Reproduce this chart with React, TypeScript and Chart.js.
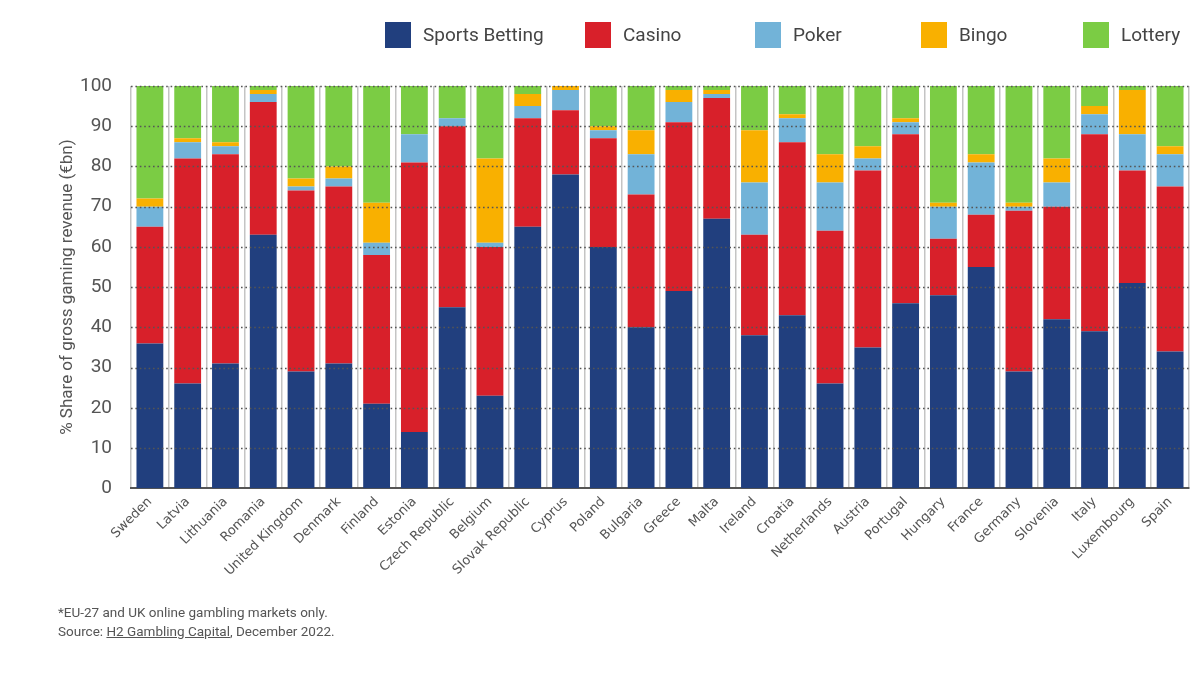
import React, { useEffect, useRef } from "react";
import { Chart, registerables } from "chart.js";

Chart.register(...registerables);

const categories = [
  "Sweden", "Latvia", "Lithuania", "Romania", "United Kingdom", "Denmark", "Finland",
  "Estonia", "Czech Republic", "Belgium", "Slovak Republic", "Cyprus", "Poland", "Bulgaria",
  "Greece", "Malta", "Ireland", "Croatia", "Netherlands", "Austria", "Portugal",
  "Hungary", "France", "Germany", "Slovenia", "Italy", "Luxembourg", "Spain",
];

const sportsBetting = [36, 26, 31, 63, 29, 31, 21, 14, 45, 23, 65, 78, 60, 40, 49, 67, 38, 43, 26, 35, 46, 48, 55, 29, 42, 39, 51, 34];
const casino = [29, 56, 52, 33, 45, 44, 37, 67, 45, 37, 27, 16, 27, 33, 42, 30, 25, 43, 38, 44, 42, 14, 13, 40, 28, 49, 28, 41];
const poker = [5, 4, 2, 2, 1, 2, 3, 7, 2, 1, 3, 5, 2, 10, 5, 1, 13, 6, 12, 3, 3, 8, 13, 1, 6, 5, 9, 8];
const bingo = [2, 1, 1, 1, 2, 3, 10, 0, 0, 21, 3, 1, 1, 6, 3, 1, 13, 1, 7, 3, 1, 1, 2, 1, 6, 2, 11, 2];
const lottery = [28, 13, 14, 1, 23, 20, 29, 12, 8, 18, 2, 0, 10, 11, 1, 1, 11, 7, 17, 15, 8, 29, 17, 29, 18, 5, 1, 15];

const yTickValues = [0, 10, 20, 30, 40, 50, 60, 70, 80, 90, 100];

const seriesNames = ["Sports Betting", "Casino", "Poker", "Bingo", "Lottery"];
const seriesColors = ["#213f7e", "#d8202a", "#72b3d8", "#f9b000", "#7bcc44"];

const UI_FONT = "'Liberation Sans Narrow', Roboto, 'Noto Sans', sans-serif";
const LABEL_FONT = "'DejaVu Sans', Verdana, sans-serif";

// legend layout (style only)
const LEGEND_X = [385, 585, 755, 921, 1083];
const LEGEND_TOP = 22;
const LEGEND_BOX = 26;

const dottedGrid = {
  id: "dottedGrid",
  afterDatasetsDraw(chart: any) {
    const { ctx, chartArea, scales } = chart;
    const y = scales.y;
    ctx.save();
    ctx.strokeStyle = "#555";
    ctx.lineWidth = 1.6;
    ctx.setLineDash([1.6, 2.8]);
    yTickValues.forEach((v) => {
      if (v === 0) return;
      const py = Math.round(y.getPixelForValue(v)) + 0.5;
      ctx.beginPath();
      ctx.moveTo(chartArea.left, py);
      ctx.lineTo(chartArea.right, py);
      ctx.stroke();
    });
    ctx.restore();
  },
};

const topLegend = {
  id: "topLegend",
  afterDraw(chart: any) {
    const { ctx } = chart;
    ctx.save();
    ctx.font = `19px ${UI_FONT}`;
    ctx.textBaseline = "middle";
    ctx.textAlign = "left";
    chart.data.datasets.forEach((ds: any, i: number) => {
      const x = LEGEND_X[i];
      ctx.fillStyle = ds.backgroundColor;
      ctx.fillRect(x, LEGEND_TOP, LEGEND_BOX, LEGEND_BOX);
      ctx.fillStyle = "#444";
      ctx.fillText(ds.label, x + 38, LEGEND_TOP + LEGEND_BOX / 2 + 1);
    });
    ctx.restore();
  },
};

export default function App() {
  const ref = useRef<HTMLCanvasElement | null>(null);

  useEffect(() => {
    if (!ref.current) return;
    const series = [sportsBetting, casino, poker, bingo, lottery];
    const chart = new Chart(ref.current, {
      type: "bar",
      data: {
        labels: categories,
        datasets: series.map((d, i) => ({
          label: seriesNames[i],
          data: d,
          backgroundColor: seriesColors[i],
          borderWidth: 0,
          barPercentage: 0.71,
          categoryPercentage: 1,
        })),
      },
      options: {
        animation: false,
        responsive: true,
        maintainAspectRatio: false,
        layout: { padding: { left: 0, right: 11, top: 86, bottom: 90 } },
        plugins: {
          legend: { display: false },
          tooltip: { enabled: false },
        },
        scales: {
          x: {
            stacked: true,
            grid: {
              display: true,
              offset: true,
              color: "#c4c4c4",
              lineWidth: 1.5,
              drawTicks: false,
            },
            border: { display: true, color: "#555", width: 2 },
            ticks: {
              maxRotation: 45,
              minRotation: 45,
              autoSkip: false,
              padding: 6,
              color: "#555",
              font: { family: LABEL_FONT, size: 13 },
            },
          },
          y: {
            stacked: true,
            min: 0,
            max: 100,
            afterFit(scale: any) {
              scale.width = 131;
            },
            afterBuildTicks(scale: any) {
              scale.ticks = yTickValues.map((v) => ({ value: v }));
            },
            grid: { display: false },
            border: { display: false },
            ticks: {
              padding: 11,
              color: "#555",
              font: { family: UI_FONT, size: 19 },
            },
            title: {
              display: true,
              text: "% Share of gross gaming revenue (€bn)",
              color: "#555",
              font: { family: UI_FONT, size: 17 },
              padding: { top: 58, bottom: 0 },
            },
          },
        },
      },
      plugins: [dottedGrid, topLegend],
    });
    return () => chart.destroy();
  }, []);

  return (
    <div style={{ position: "absolute", left: 0, top: 0, width: 1200, height: 675, background: "#fff" }}>
      <canvas ref={ref} />
      <div
        style={{
          position: "absolute",
          left: 58,
          top: 603,
          fontFamily: UI_FONT,
          fontSize: 13.5,
          lineHeight: "19px",
          color: "#555",
        }}
      >
        <div>*EU-27 and UK online gambling markets only.</div>
        <div>
          Source: <span style={{ textDecoration: "underline" }}>H2 Gambling Capital</span>, December 2022.
        </div>
      </div>
    </div>
  );
}
